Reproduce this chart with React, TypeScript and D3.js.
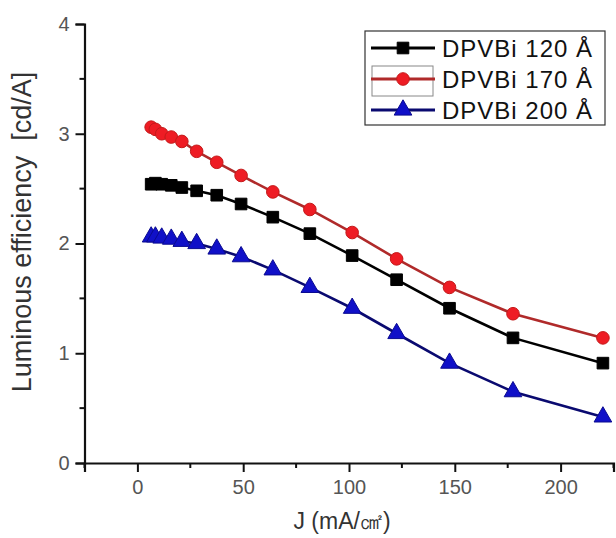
import React, { useEffect, useRef } from "react";
import * as d3 from "d3";

// current density (mA/cm2) shared by all three devices
const jValues = [6.5, 8.5, 11.5, 16, 21, 28, 37.5, 49, 64, 81.5, 101.5, 122.5, 147.5, 177.5, 220];
const eff120 = [2.54, 2.55, 2.54, 2.53, 2.51, 2.48, 2.44, 2.36, 2.24, 2.09, 1.89, 1.67, 1.41, 1.14, 0.91];
const eff170 = [3.06, 3.04, 3.0, 2.97, 2.93, 2.84, 2.74, 2.62, 2.47, 2.31, 2.1, 1.86, 1.6, 1.36, 1.14];
const eff200 = [2.06, 2.06, 2.05, 2.04, 2.02, 2.0, 1.95, 1.88, 1.76, 1.6, 1.41, 1.18, 0.91, 0.65, 0.42];
const seriesNames = ["DPVBi 120 Å", "DPVBi 170 Å", "DPVBi 200 Å"];
const xTicks = [0, 50, 100, 150, 200];
const xMinor = [-25, 25, 75, 125, 175, 225];
const yTicks = [0, 1, 2, 3, 4];
const yMinor = [0.5, 1.5, 2.5, 3.5];

const W = 616;
const H = 538;
const FONT = "'Liberation Sans', Arial, sans-serif";

const App = () => {
  const ref = useRef<SVGSVGElement>(null);

  useEffect(() => {
    const svg = d3.select(ref.current);
    svg.selectAll("*").remove();

    const x = d3.scaleLinear().domain([-25, 225]).range([84.5, 613.5]);
    const y = d3.scaleLinear().domain([0, 4]).range([463, 24]);

    const series = [
      { name: seriesNames[0], vals: eff120, line: "#000", fill: "#000", stroke: "#000", shape: d3.symbolSquare, size: 135 },
      { name: seriesNames[1], vals: eff170, line: "#b02a2a", fill: "#ee1c24", stroke: "#c41a1a", shape: d3.symbolCircle, size: 125 },
      { name: seriesNames[2], vals: eff200, line: "#0a0a70", fill: "#1010c8", stroke: "#0a0a90", shape: d3.symbolTriangle, size: 135 },
    ];

    // axes
    const gx = svg.append("g").attr("transform", `translate(0,${y(0)})`);
    gx.call(d3.axisBottom(x).tickValues(xTicks).tickSize(9).tickPadding(8).tickFormat(d3.format("d")));
    gx.selectAll(".minor").data(xMinor).enter().append("line")
      .attr("x1", d => x(d)).attr("x2", d => x(d)).attr("y1", 0).attr("y2", 5)
      .attr("stroke", "#111").attr("stroke-width", 2);

    const gy = svg.append("g").attr("transform", `translate(${x(-25)},0)`);
    gy.call(d3.axisLeft(y).tickValues(yTicks).tickSize(9).tickPadding(6).tickFormat(d3.format("d")));
    gy.selectAll(".minor").data(yMinor).enter().append("line")
      .attr("x1", 0).attr("x2", -5).attr("y1", d => y(d)).attr("y2", d => y(d))
      .attr("stroke", "#111").attr("stroke-width", 2);

    svg.selectAll(".domain").attr("stroke", "#111").attr("stroke-width", 2.2);
    svg.selectAll(".tick line").attr("stroke", "#111").attr("stroke-width", 2);
    svg.selectAll(".tick text").attr("fill", "#555").style("font-family", FONT).style("font-size", "20px");

    // series
    series.forEach(s => {
      const pts = s.vals.map((v, i) => [jValues[i], v] as [number, number]);
      svg.append("path")
        .datum(pts)
        .attr("fill", "none")
        .attr("stroke", s.line)
        .attr("stroke-width", 2.6)
        .attr("d", d3.line().x(d => x(d[0])).y(d => y(d[1])));
      svg.append("g").selectAll("path").data(pts).enter().append("path")
        .attr("transform", d => `translate(${x(d[0])},${y(d[1])})`)
        .attr("d", d3.symbol().type(s.shape).size(s.size)())
        .attr("fill", s.fill)
        .attr("stroke", s.stroke)
        .attr("stroke-width", 1);
    });

    // axis titles
    svg.append("text")
      .attr("x", 342).attr("y", 529)
      .attr("text-anchor", "middle")
      .style("font-family", FONT).style("font-size", "23px").attr("fill", "#333")
      .text("J (mA/㎠)");
    svg.append("text")
      .attr("transform", "translate(31,232) rotate(-90)")
      .attr("text-anchor", "middle")
      .style("font-family", FONT).style("font-size", "27px").attr("fill", "#333")
      .attr("xml:space", "preserve")
      .text("Luminous efficiency  [cd/A]");

    // legend
    const lg = svg.append("g");
    lg.append("rect").attr("x", 365).attr("y", 31).attr("width", 240).attr("height", 94)
      .attr("fill", "white").attr("stroke", "#333").attr("stroke-width", 1.2);
    lg.append("rect").attr("x", 372).attr("y", 66).attr("width", 61).attr("height", 30)
      .attr("fill", "none").attr("stroke", "#888").attr("stroke-width", 1);
    series.forEach((s, i) => {
      const ly = 48 + i * 31;
      lg.append("line").attr("x1", 371).attr("x2", 435).attr("y1", ly).attr("y2", ly)
        .attr("stroke", s.line).attr("stroke-width", 3);
      lg.append("path").attr("transform", `translate(403,${ly})`)
        .attr("d", d3.symbol().type(s.shape).size(s.size)())
        .attr("fill", s.fill).attr("stroke", s.stroke);
      lg.append("text").attr("x", 442).attr("y", ly + 8.5)
        .style("font-family", FONT).style("font-size", "24px").style("letter-spacing", "1px")
        .attr("fill", "#111")
        .text(s.name);
    });
  }, []);

  return (
    <svg ref={ref} width={W} height={H} style={{ position: "absolute", left: 0, top: 0, background: "white" }}></svg>
  );
};

export default App;
